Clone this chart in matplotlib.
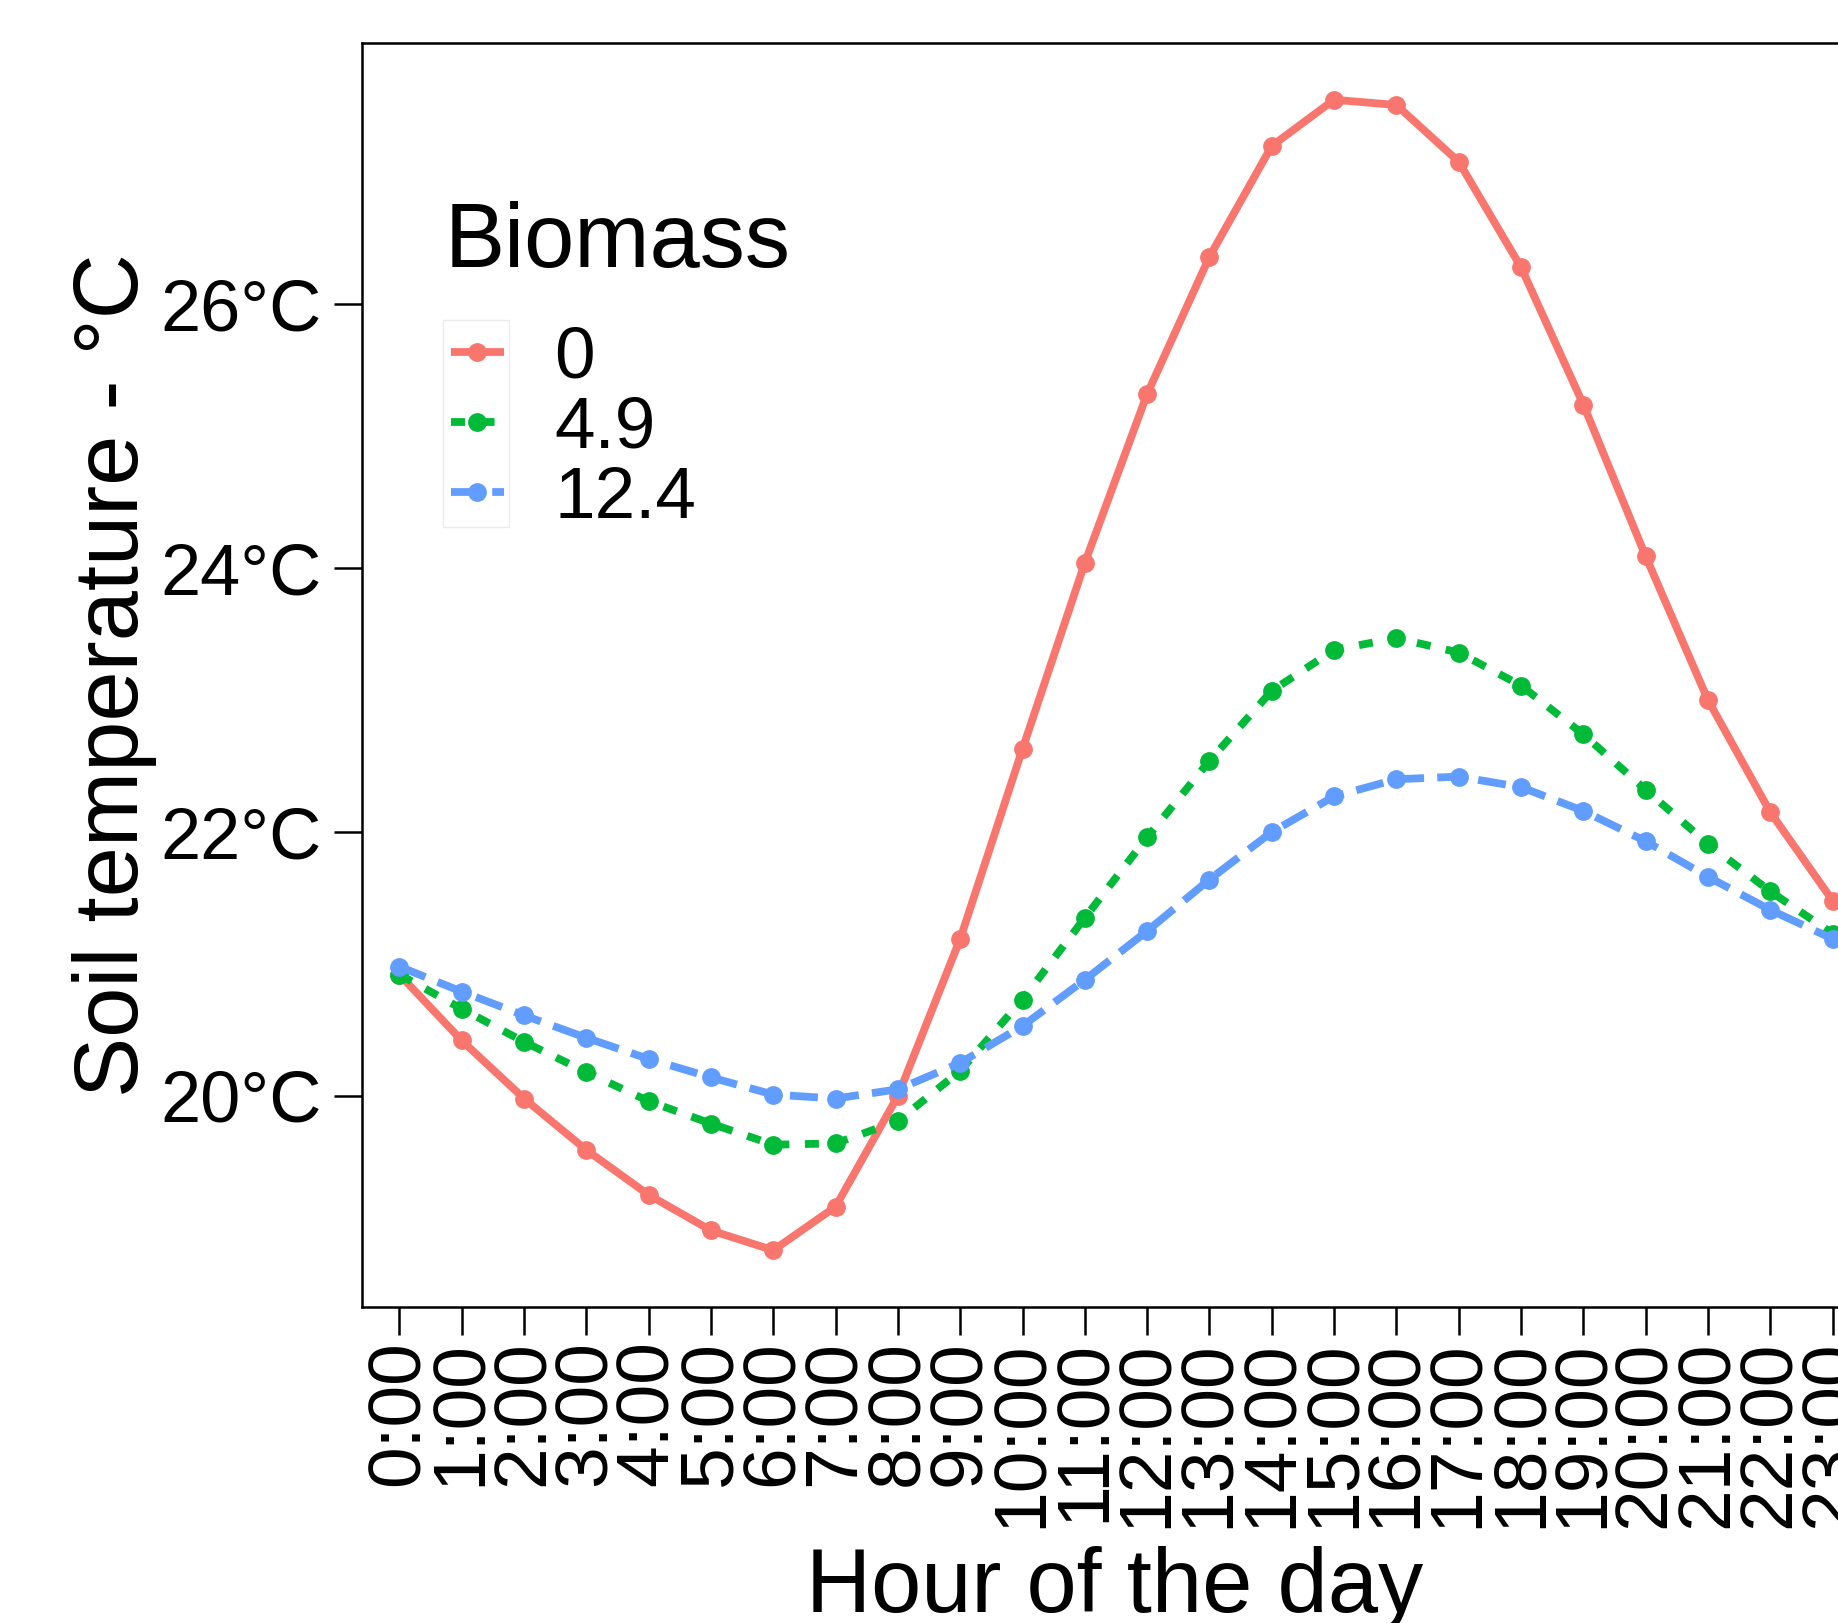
import matplotlib.pyplot as plt
from matplotlib.patches import Rectangle

plt.rcParams['font.family'] = ['Liberation Sans', 'DejaVu Sans']

# hourly soil temperature by biomass level
hours = [f"{h}:00" for h in range(24)]
biomass = ["0", "4.9", "12.4"]
temp_0 = [20.92, 20.42, 19.98, 19.59, 19.25, 18.98, 18.83, 19.16, 20.00, 21.19,
          22.63, 24.04, 25.32, 26.36, 27.20, 27.55, 27.51, 27.08, 26.28, 25.24,
          24.09, 23.00, 22.15, 21.48]
temp_49 = [20.92, 20.66, 20.41, 20.18, 19.96, 19.79, 19.63, 19.64, 19.81, 20.19,
           20.73, 21.35, 21.96, 22.54, 23.07, 23.38, 23.47, 23.36, 23.11, 22.74,
           22.32, 21.91, 21.55, 21.23]
temp_124 = [20.98, 20.79, 20.61, 20.44, 20.28, 20.14, 20.01, 19.98, 20.05, 20.25,
            20.53, 20.88, 21.25, 21.64, 22.00, 22.27, 22.40, 22.42, 22.34, 22.16,
            21.93, 21.66, 21.41, 21.19]
y_ticks = [20, 22, 24, 26]

colors = ["#F8766D", "#00BA38", "#619CFF"]
dashes = [None, (1.8, 2), (3.6, 1.7)]

W, H = 1838, 1623
fig = plt.figure(figsize=(W / 100, H / 100), dpi=100)
# panel runs past the right edge, as in the cropped original
ax = fig.add_axes([362 / W, (H - 1307) / H, 1508 / W, 1264 / H])

x = list(range(len(hours)))
for series, lab, c, d in zip([temp_0, temp_49, temp_124], biomass, colors, dashes):
    line, = ax.plot(x, series, color=c, lw=5.6, marker="o", ms=12.5,
                    label=lab, solid_capstyle="butt", dash_capstyle="butt")
    if d is not None:
        line.set_dashes(d)

ax.set_xlim(-0.6, 23.6)
ax.set_ylim(18.40, 27.98)
ax.set_xticks(x)
ax.set_xticklabels(hours, rotation=90)
ax.set_yticks(y_ticks)
ax.set_yticklabels([f"{v}°C" for v in y_ticks])
ax.tick_params(length=20, width=1.8, pad=9, color="black")
ax.tick_params(axis="x", labelsize=54, pad=4)
ax.tick_params(axis="y", labelsize=52)
for s in ax.spines.values():
    s.set_linewidth(1.8)

fig.text(115 / W, 1 - 675 / H, "Soil temperature - °C", rotation=90,
         ha="center", va="center", fontsize=65)
fig.text(1115 / W, 1 - 1612 / H, "Hour of the day", ha="center",
         va="baseline", fontsize=65)

# legend: title drawn on its own, entries below it
fig.text(445 / W, 1 - 267 / H, "Biomass", ha="left", va="baseline", fontsize=65)
leg = ax.legend(loc="upper left",
                bbox_to_anchor=(451 / W, 1 - 326 / H), bbox_transform=fig.transFigure,
                frameon=False, fontsize=52.6, handlelength=0.72,
                handletextpad=0.69, labelspacing=0.04, borderpad=0, borderaxespad=0)

fig.patches.append(Rectangle((443 / W, 1 - 527 / H), 66 / W, 207 / H,
                             transform=fig.transFigure, fill=False,
                             edgecolor="#EBEBEB", lw=1))

fig.savefig("out.png", dpi=100)
